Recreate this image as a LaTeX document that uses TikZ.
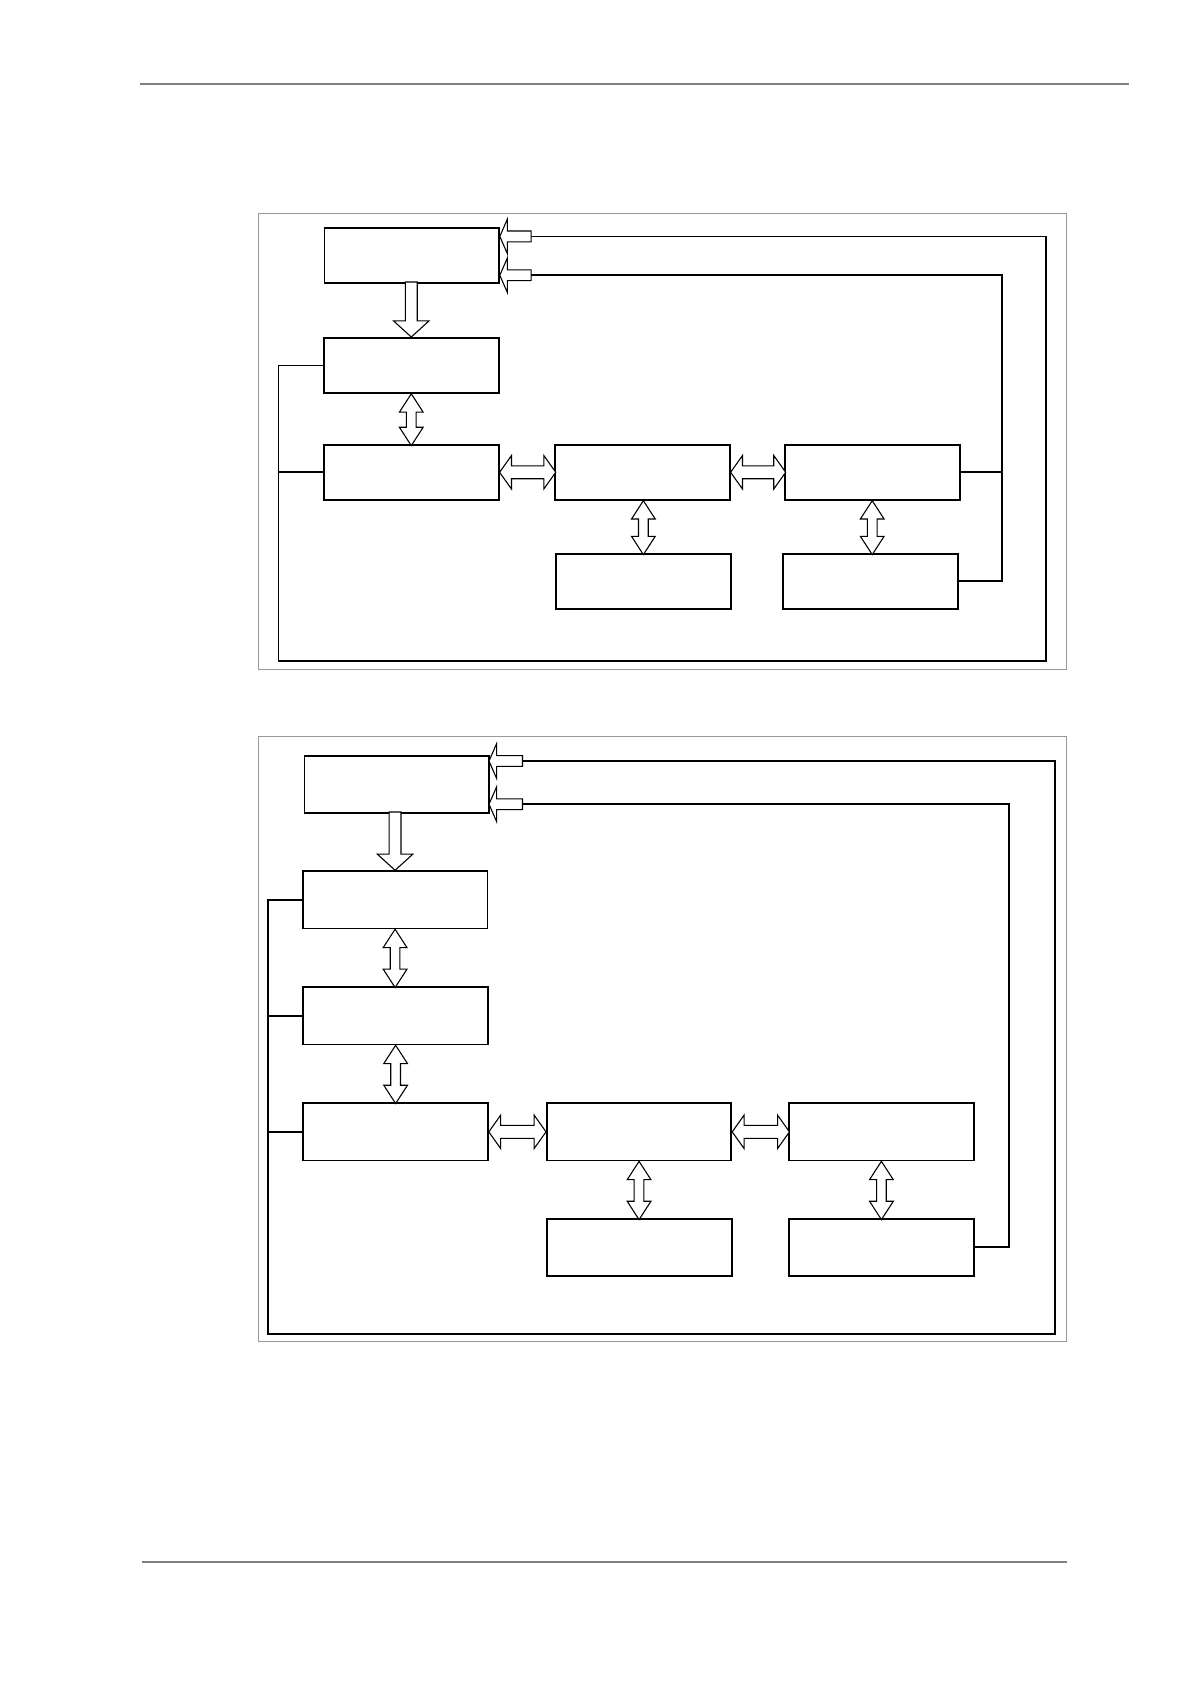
\documentclass[tikz,border=0pt]{standalone}
\usetikzlibrary{positioning}

% hollow block arrows, drawn from an anchor; y grows downwards
\newcommand\vdbl[2]{% start anchor, length
  \draw[blockarrow, shift={(#1)}] (0,0) -- (11,17) -- (4.5,17) -- (4.5,#2-17) -- (11,#2-17)
    -- (0,#2) -- (-11,#2-17) -- (-4.5,#2-17) -- (-4.5,17) -- (-11,17) -- cycle;}
\newcommand\hdbl[2]{% start anchor, length
  \draw[blockarrow, shift={(#1)}] (0,0) -- (11,-15.5) -- (11,-6) -- (#2-11,-6) -- (#2-11,-15.5)
    -- (#2,0) -- (#2-11,15.5) -- (#2-11,6) -- (11,6) -- (11,15.5) -- cycle;}
\newcommand\vdown[2]{% end anchor (tip), length
  \draw[blockarrow, shift={(#1)}] (0,0) -- (16.5,-15) -- (5.5,-15) -- (5.5,-#2) -- (-5.5,-#2)
    -- (-5.5,-15) -- (-16.5,-15) -- cycle;}
\newcommand\hleft[2]{% tip point, length
  \draw[blockarrow, shift={(#1)}] (0,0) -- (7,-16) -- (7,-5) -- (#2,-5) -- (#2,5) -- (7,5)
    -- (7,16) -- cycle;}

\begin{document}
\begin{tikzpicture}[
  x=1pt, y=-1pt,
  box/.style = {draw, line width=1.6pt, inner sep=0pt, minimum width=162pt, minimum height=51pt},
  wbox/.style = {box, minimum width=171pt, minimum height=53pt},
  line/.style = {line width=1.6pt},
  blockarrow/.style = {draw, line width=1pt, fill=white, line join=miter},
  frame/.style = {draw=gray!80, line width=0.8pt},
  rule/.style = {draw=gray, line width=2pt}
  ]
  \useasboundingbox (0,0) rectangle (1103,1560);
  \draw[rule] (130,78) -- (1046,78);
  \draw[rule] (132,1447) -- (988,1447);

  % first scheme
  \draw[frame] (239,198) rectangle (988,620);
  \node[box] (a1) at (381.5,236.5) {};
  \node[box] (b1) at (381,338.5) {};
  \node[box] (c1) at (381,437.5) {};
  \node[box] (d1) at (595,437.5) {};
  \node[box] (e1) at (808,437.5) {};
  \node[box] (f1) at (596,538.5) {};
  \node[box] (g1) at (806.5,538.5) {};

  \vdown{b1.north}{51}
  \vdbl{b1.south}{48}
  \hdbl{c1.east}{52}
  \hdbl{d1.east}{51}
  \vdbl{d1.south -| f1.north}{50}
  \vdbl{e1.south}{50}

  \coordinate (fa1) at (463,219);
  \coordinate (fb1) at (463,255);
  \coordinate (l1) at (258,612);
  \coordinate (r1) at (969,219);
  \coordinate (s1) at (928,255);
  \draw[line] (b1.west) -| (l1) -| (r1) -- ([xshift=29]fa1);
  \draw[line] (c1.west) -- (c1.west -| l1);
  \draw[line] (g1.east) -| (s1) -- ([xshift=29]fb1);
  \draw[line] (e1.east) -- (e1.east -| s1);
  \hleft{fa1}{29}
  \hleft{fb1}{29}

  % second scheme
  \draw[frame] (239,682) rectangle (988,1243);
  \node[wbox] (a2) at (367.5,726.5) {};
  \node[wbox] (b2) at (366,833.5) {};
  \node[wbox] (c2) at (366.5,941) {};
  \node[wbox] (d2) at (366.5,1048.5) {};
  \node[wbox] (e2) at (592,1048.5) {};
  \node[wbox] (f2) at (816.5,1048.5) {};
  \node[wbox] (g2) at (592.5,1155.5) {};
  \node[wbox] (h2) at (816.5,1155.5) {};

  \vdown{b2.north}{54}
  \vdbl{b2.south}{54}
  \vdbl{c2.south}{54}
  \hdbl{d2.east}{53}
  \hdbl{e2.east}{53}
  \vdbl{e2.south}{54}
  \vdbl{f2.south}{54}

  \coordinate (fa2) at (453,705);
  \coordinate (fb2) at (453,745);
  \coordinate (l2) at (248,1236);
  \coordinate (r2) at (977,705);
  \coordinate (s2) at (935,745);
  \draw[line] (b2.west) -| (l2) -| (r2) -- ([xshift=31]fa2);
  \draw[line] (c2.west) -- (c2.west -| l2);
  \draw[line] (d2.west) -- (d2.west -| l2);
  \draw[line] (h2.east) -| (s2) -- ([xshift=31]fb2);
  \hleft{fa2}{31}
  \hleft{fb2}{31}
\end{tikzpicture}
\end{document}
